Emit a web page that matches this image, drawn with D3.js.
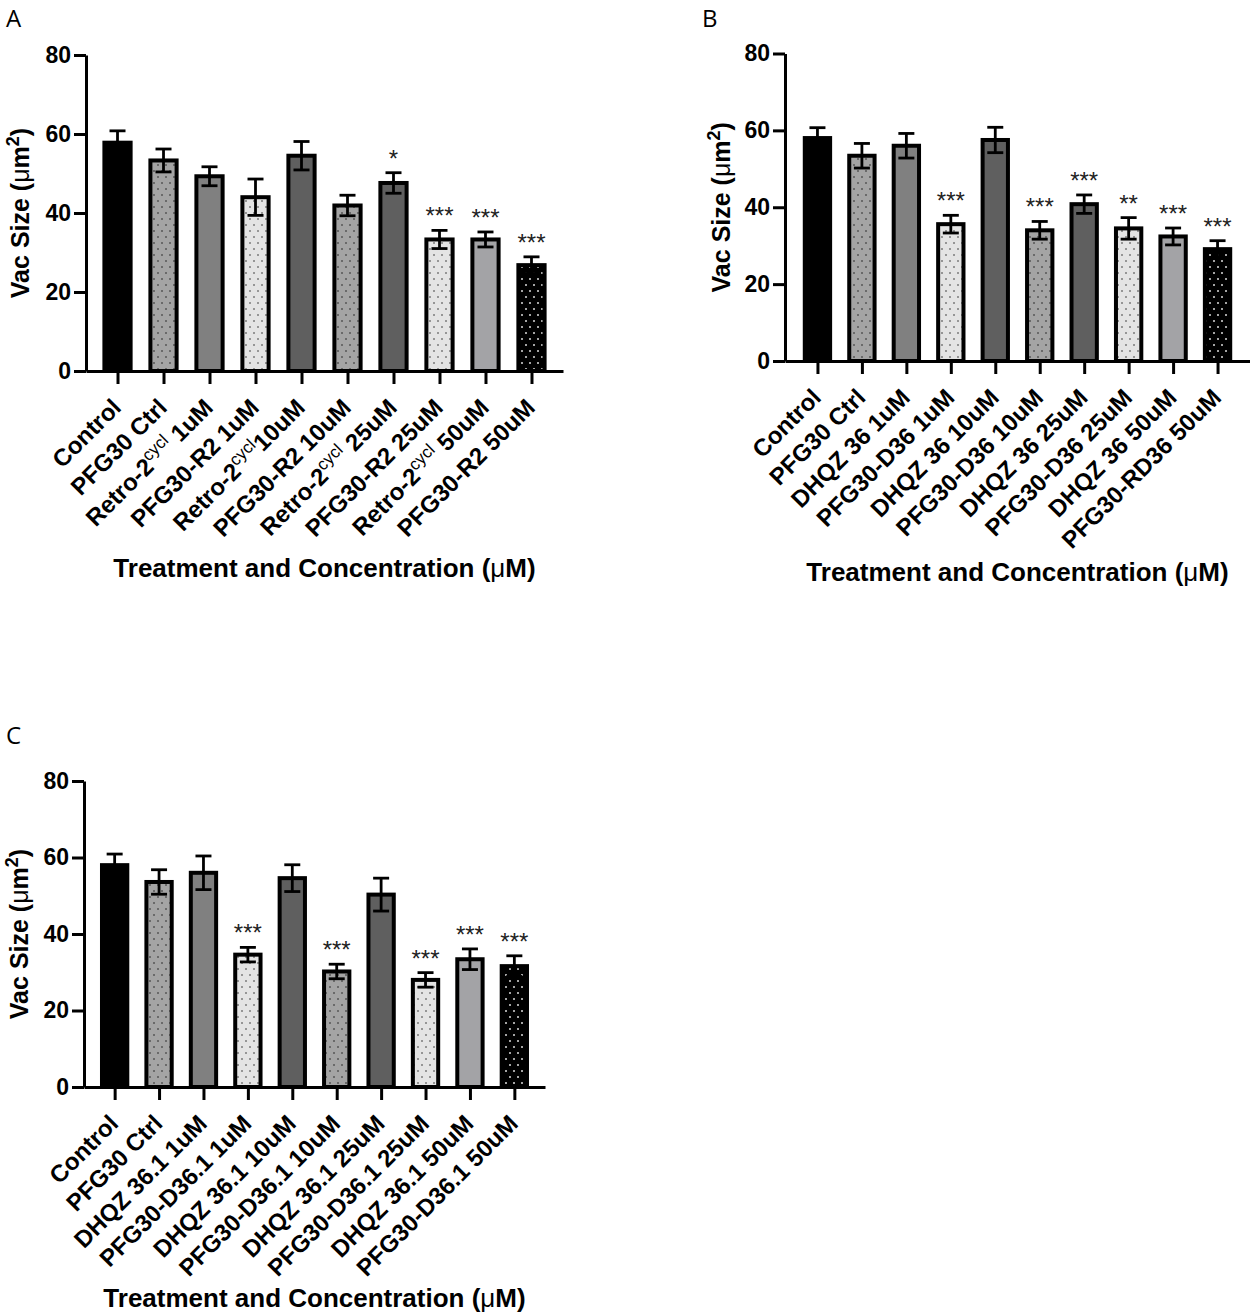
<!DOCTYPE html>
<html>
<head>
<meta charset="utf-8">
<script src="https://cdn.jsdelivr.net/npm/d3@7"></script>
<style>
    body { margin: 0; background: #fff; }
    svg { display: block; }
</style>
</head>
<body>
<div id="chart"></div>
<script>
// values (means and SEM, in µm²)
const yTicks = [0, 20, 40, 60, 80];

const labelsA = ['Control', 'PFG30 Ctrl', 'Retro-2^cycl^ 1uM', 'PFG30-R2 1uM', 'Retro-2^cycl^10uM',
    'PFG30-R2 10uM', 'Retro-2^cycl^ 25uM', 'PFG30-R2 25uM', 'Retro-2^cycl^ 50uM', 'PFG30-R2 50uM'];
const meansA = [57.8, 53.3, 49.3, 44.0, 54.5, 41.9, 47.6, 33.3, 33.3, 26.8];
const semsA = [3.0, 2.9, 2.4, 4.6, 3.6, 2.6, 2.6, 2.3, 1.9, 2.1];
const starsA = ['', '', '', '', '', '', '*', '***', '***', '***'];

const labelsB = ['Control', 'PFG30 Ctrl', 'DHQZ 36 1uM', 'PFG30-D36 1uM', 'DHQZ 36 10uM',
    'PFG30-D36 10uM', 'DHQZ 36 25uM', 'PFG30-D36 25uM', 'DHQZ 36 50uM', 'PFG30-RD36 50uM'];
const meansB = [58.0, 53.4, 56.0, 35.6, 57.5, 34.0, 40.8, 34.5, 32.4, 29.1];
const semsB = [2.7, 3.2, 3.2, 2.3, 3.3, 2.3, 2.4, 2.8, 2.2, 2.2];
const starsB = ['', '', '', '***', '', '***', '***', '**', '***', '***'];

const labelsC = ['Control', 'PFG30 Ctrl', 'DHQZ 36.1 1uM', 'PFG30-D36.1 1uM', 'DHQZ 36.1 10uM',
    'PFG30-D36.1 10uM', 'DHQZ 36.1 25uM', 'PFG30-D36.1 25uM', 'DHQZ 36.1 50uM', 'PFG30-D36.1 50uM'];
const meansC = [58.0, 53.6, 56.0, 34.6, 54.6, 30.2, 50.3, 28.0, 33.4, 31.6];
const semsC = [2.9, 3.2, 4.4, 1.9, 3.5, 1.9, 4.3, 1.9, 2.7, 2.7];
const starsC = ['', '', '', '***', '', '***', '', '***', '***', '***'];

// bar look, same order in every panel
const barFills = ['#000', '#a4a4a4', '#808080', '#e4e4e4', '#5f5f5f', '#a4a4a4', '#5f5f5f', '#e4e4e4', '#a3a3a6', '#000'];
const barDots = [null, '#4a4a4a', null, '#6a6a6a', null, '#4a4a4a', null, '#6a6a6a', null, '#fff'];

const BOLD = '"Liberation Sans", Arial, sans-serif';

const svg = d3.select('#chart').append('svg')
    .attr('width', 1250)
    .attr('height', 1313);

const defs = svg.append('defs');

function patternFor(fill, dot) {
    if (!dot) return fill;
    const id = 'p' + fill.replace('#', '') + dot.replace('#', '');
    if (defs.select('#' + id).empty()) {
        const p = defs.append('pattern')
            .attr('id', id)
            .attr('patternUnits', 'userSpaceOnUse')
            .attr('width', 8)
            .attr('height', 12);
        p.append('rect').attr('width', 8).attr('height', 12).attr('fill', fill);
        [[2, 3], [6, 9]].forEach(([cx, cy]) => {
            p.append('rect')
                .attr('x', cx - 0.8).attr('y', cy - 0.8)
                .attr('width', 1.6).attr('height', 1.6)
                .attr('fill', dot);
        });
    }
    return 'url(#' + id + ')';
}

function drawPanel(cfg) {
    const g = svg.append('g');

    g.append('text')
        .attr('x', cfg.letterX)
        .attr('y', cfg.letterY)
        .attr('font-family', '"Open Sans", "Noto Sans", sans-serif')
        .attr('font-size', 24)
        .text(cfg.letter);

    const y = d3.scaleLinear().domain([0, 80]).range([cfg.y0, cfg.y80]);
    const x = d3.scalePoint()
        .domain(d3.range(cfg.labels.length))
        .range([cfg.x0, cfg.x1])
        .padding(cfg.pad);
    const barW = x.step() * 0.57;

    // bars
    g.append('g').selectAll('rect')
        .data(cfg.means)
        .enter().append('rect')
        .attr('x', (d, i) => x(i) - barW / 2)
        .attr('y', d => y(d))
        .attr('width', barW)
        .attr('height', d => cfg.y0 - y(d))
        .attr('fill', (d, i) => patternFor(barFills[i], barDots[i]))
        .attr('stroke', '#000')
        .attr('stroke-width', 4);

    // error bars
    const err = g.append('g')
        .attr('stroke', '#000')
        .attr('stroke-width', 2.8)
        .selectAll('g')
        .data(cfg.means)
        .enter().append('g');
    err.append('line')
        .attr('x1', (d, i) => x(i)).attr('x2', (d, i) => x(i))
        .attr('y1', (d, i) => y(d - cfg.sems[i]))
        .attr('y2', (d, i) => y(d + cfg.sems[i]));
    [1, -1].forEach(sign => {
        err.append('line')
            .attr('x1', (d, i) => x(i) - 8).attr('x2', (d, i) => x(i) + 8)
            .attr('y1', (d, i) => y(d + sign * cfg.sems[i]))
            .attr('y2', (d, i) => y(d + sign * cfg.sems[i]));
    });

    // significance marks
    g.append('g').selectAll('text')
        .data(cfg.means)
        .enter().append('text')
        .attr('x', (d, i) => x(i))
        .attr('y', (d, i) => y(d + cfg.sems[i]) - 6)
        .attr('text-anchor', 'middle')
        .attr('font-family', BOLD)
        .attr('font-size', 24)
        .attr('fill', '#222')
        .text((d, i) => cfg.stars[i]);

    // y axis
    const yAxis = g.append('g')
        .attr('transform', `translate(${cfg.x0},0)`)
        .call(d3.axisLeft(y).tickValues(yTicks).tickSize(12).tickSizeOuter(0).tickPadding(3));
    yAxis.selectAll('text')
        .attr('font-family', BOLD)
        .attr('font-weight', 'bold')
        .attr('font-size', 23)
        .attr('fill', '#000');

    // x axis
    const xAxis = g.append('g')
        .attr('transform', `translate(0,${cfg.y0})`)
        .call(d3.axisBottom(x).tickSize(13).tickSizeOuter(0).tickFormat(''));

    [yAxis, xAxis].forEach(a => {
        a.select('.domain').attr('stroke', '#000').attr('stroke-width', 3);
        a.selectAll('.tick line').attr('stroke', '#000').attr('stroke-width', 3);
    });

    // rotated category labels, "^" marks a superscript part
    cfg.labels.forEach((lab, i) => {
        const t = g.append('text')
            .attr('transform', `translate(${x(i) + 5},${cfg.y0 + 38}) rotate(-45)`)
            .attr('text-anchor', 'end')
            .attr('font-family', BOLD)
            .attr('font-weight', 'bold')
            .attr('font-size', 24);
        const parts = lab.split('^');
        parts.forEach((p, k) => {
            if (!p) return;
            const s = t.append('tspan').text(p);
            if (k === 1) {
                s.attr('font-weight', 'normal').attr('font-size', 17).attr('dy', -9);
            } else if (k === 2) {
                s.attr('dy', 9);
            }
        });
    });

    // axis titles
    const yt = g.append('text')
        .attr('transform', `translate(${cfg.yTitleX},${(cfg.y0 + cfg.y80) / 2}) rotate(-90)`)
        .attr('text-anchor', 'middle')
        .attr('font-family', BOLD)
        .attr('font-weight', 'bold')
        .attr('font-size', 25);
    yt.append('tspan').text('Vac Size (');
    yt.append('tspan').attr('font-weight', 'normal').text('\u03bc');
    yt.append('tspan').text('m');
    yt.append('tspan').attr('font-size', 18).attr('dy', -10).text('2');
    yt.append('tspan').attr('dy', 10).text(')');

    const xt = g.append('text')
        .attr('x', (cfg.x0 + cfg.x1) / 2)
        .attr('y', cfg.xTitleY)
        .attr('text-anchor', 'middle')
        .attr('font-family', BOLD)
        .attr('font-weight', 'bold')
        .attr('font-size', 26);
    xt.append('tspan').text('Treatment and Concentration (');
    xt.append('tspan').attr('font-weight', 'normal').text('\u03bc');
    xt.append('tspan').text('M)');
}

drawPanel({
    letter: 'A', letterX: 6, letterY: 27,
    x0: 86, x1: 563, pad: 0.685, y0: 371, y80: 55,
    yTitleX: 29, xTitleY: 577,
    labels: labelsA, means: meansA, sems: semsA, stars: starsA
});

drawPanel({
    letter: 'B', letterX: 702, letterY: 27,
    x0: 785, x1: 1250, pad: 0.73, y0: 361, y80: 53.5,
    yTitleX: 730, xTitleY: 581,
    labels: labelsB, means: meansB, sems: semsB, stars: starsB
});

drawPanel({
    letter: 'C', letterX: 6, letterY: 744,
    x0: 84, x1: 545, pad: 0.69, y0: 1087, y80: 781,
    yTitleX: 28, xTitleY: 1307,
    labels: labelsC, means: meansC, sems: semsC, stars: starsC
});
</script>
</body>
</html>
